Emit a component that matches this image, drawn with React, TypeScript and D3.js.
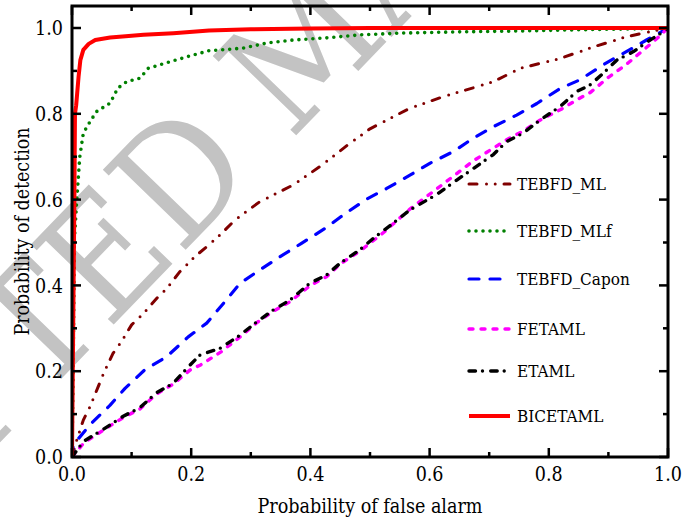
import React from "react";
import * as d3 from "d3";

// ---------- data ----------
const xTicks = [0, 0.2, 0.4, 0.6, 0.8, 1.0];
const yTicks = [0, 0.2, 0.4, 0.6, 0.8, 1.0];

const seriesNames = ["TEBFD_ML", "TEBFD_MLf", "TEBFD_Capon", "FETAML", "ETAML", "BICETAML"];

const mlX = [0, 0.008, 0.019, 0.03, 0.044, 0.053, 0.069, 0.083, 0.1, 0.12, 0.145, 0.159, 0.181, 0.206, 0.226, 0.251, 0.273, 0.315, 0.371, 0.416, 0.466, 0.5, 0.567, 0.623, 0.679, 0.707, 0.752, 0.819, 0.875, 0.931, 0.959, 1];
const mlY = [0, 0.04, 0.086, 0.117, 0.164, 0.195, 0.242, 0.269, 0.308, 0.335, 0.374, 0.393, 0.432, 0.467, 0.49, 0.521, 0.552, 0.595, 0.634, 0.677, 0.731, 0.765, 0.813, 0.84, 0.863, 0.875, 0.906, 0.929, 0.956, 0.98, 0.988, 1];

const mlfX = [0, 0.002, 0.003, 0.004, 0.008, 0.013, 0.019, 0.03, 0.041, 0.064, 0.077, 0.092, 0.114, 0.128, 0.164, 0.203, 0.23, 0.287, 0.327, 0.371, 0.427, 0.483, 0.55, 0.651, 0.75, 0.819, 0.9, 0.987, 1];
const mlfY = [0, 0.2, 0.35, 0.506, 0.599, 0.699, 0.755, 0.781, 0.805, 0.825, 0.86, 0.875, 0.883, 0.906, 0.921, 0.937, 0.947, 0.953, 0.965, 0.972, 0.977, 0.984, 0.988, 0.991, 0.993, 0.995, 0.997, 0.999, 1];

const caponX = [0, 0.002, 0.03, 0.064, 0.089, 0.122, 0.159, 0.195, 0.226, 0.254, 0.282, 0.315, 0.349, 0.385, 0.427, 0.455, 0.494, 0.528, 0.567, 0.601, 0.64, 0.673, 0.707, 0.746, 0.78, 0.819, 0.852, 0.891, 0.925, 0.964, 1];
const caponY = [0, 0.028, 0.075, 0.121, 0.16, 0.203, 0.234, 0.28, 0.312, 0.358, 0.405, 0.436, 0.467, 0.498, 0.535, 0.564, 0.601, 0.626, 0.657, 0.685, 0.712, 0.743, 0.77, 0.797, 0.824, 0.859, 0.879, 0.914, 0.941, 0.972, 1];

const fetamlX = [0, 0.02, 0.053, 0.086, 0.114, 0.142, 0.17, 0.2, 0.215, 0.25, 0.282, 0.31, 0.338, 0.366, 0.4, 0.427, 0.45, 0.483, 0.52, 0.567, 0.612, 0.645, 0.673, 0.707, 0.73, 0.757, 0.785, 0.82, 0.85, 0.87, 0.9, 0.93, 0.96, 0.985, 1];
const fetamlY = [0, 0.033, 0.063, 0.092, 0.112, 0.147, 0.17, 0.205, 0.214, 0.245, 0.28, 0.313, 0.34, 0.362, 0.4, 0.42, 0.45, 0.48, 0.52, 0.578, 0.625, 0.66, 0.69, 0.72, 0.74, 0.76, 0.785, 0.81, 0.835, 0.85, 0.885, 0.915, 0.95, 0.98, 1];

const etamlX = [0, 0.019, 0.053, 0.086, 0.114, 0.142, 0.17, 0.195, 0.215, 0.248, 0.282, 0.31, 0.338, 0.366, 0.399, 0.427, 0.45, 0.483, 0.506, 0.539, 0.567, 0.612, 0.645, 0.673, 0.707, 0.729, 0.757, 0.785, 0.819, 0.847, 0.869, 0.891, 0.914, 0.942, 0.97, 0.992, 1];
const etamlY = [0, 0.036, 0.065, 0.095, 0.115, 0.15, 0.172, 0.21, 0.238, 0.253, 0.284, 0.315, 0.343, 0.366, 0.405, 0.424, 0.452, 0.483, 0.51, 0.545, 0.576, 0.612, 0.645, 0.672, 0.705, 0.735, 0.755, 0.785, 0.817, 0.852, 0.867, 0.894, 0.925, 0.945, 0.972, 0.991, 1];

const biceX = [0, 0.002, 0.004, 0.005, 0.007, 0.011, 0.014, 0.019, 0.028, 0.039, 0.064, 0.09, 0.12, 0.17, 0.23, 0.3, 0.4, 0.5, 0.7, 1];
const biceY = [0, 0.3, 0.6, 0.8, 0.82, 0.886, 0.925, 0.949, 0.963, 0.972, 0.978, 0.981, 0.984, 0.988, 0.994, 0.997, 0.999, 1, 1, 1];

// ---------- layout / styles ----------
const W = 683;
const H = 520;
const M = { left: 72, right: 668, top: 6, bottom: 457 };
const TXT = {
  fontFamily: "'DejaVu Serif Condensed', 'DejaVu Serif', serif",
  fontStretch: "condensed",
};

const styles = [
  { color: "#800000", width: 3, dash: "8,9.5,0,8.7,0,8.8" },
  { color: "#008000", width: 3.6, dash: "0,7" },
  { color: "#0000ff", width: 3.2, dash: "10,11" },
  { color: "#ff00ff", width: 3.4, dash: "4,8" },
  { color: "#000000", width: 3.4, dash: "6.5,7,0,8.2" },
  { color: "#ff0000", width: 4, dash: "" },
];
const legendRows = [184, 231, 279, 329, 371, 416];

export default function App() {
  const x = d3.scaleLinear().domain([0, 1]).range([M.left, M.right]);
  const y = d3.scaleLinear().domain([0, 1]).range([M.bottom, 28]);

  const data = [
    d3.zip(mlX, mlY),
    d3.zip(mlfX, mlfY),
    d3.zip(caponX, caponY),
    d3.zip(fetamlX, fetamlY),
    d3.zip(etamlX, etamlY),
    d3.zip(biceX, biceY),
  ];
  const line = d3
    .line<number[]>()
    .x((d) => x(d[0]))
    .y((d) => y(d[1]));

  const minorX = d3.range(0, 10.5, 1).map((i) => i / 10);
  const minorY = d3.range(0, 10.5, 1).map((i) => i / 10);

  return (
    <svg
      width={W}
      height={H}
      style={{ position: "fixed", left: 0, top: 0, background: "#fff" }}
    >
      <rect x={0} y={0} width={W} height={H} fill="#fff" />
      {/* watermark */}
      <g transform="translate(312,40) rotate(-46)">
        <text
          x={0}
          y={0}
          textAnchor="middle"
          dominantBaseline="central"
          fontSize={158}
          fill="#c3c3c3"
          style={TXT}
        >
          ACCEPTED MANUSCRIPT
        </text>
      </g>

      {/* curves */}
      <defs>
        <clipPath id="plotclip">
          <rect x={M.left} y={M.top} width={M.right - M.left} height={M.bottom - M.top} />
        </clipPath>
      </defs>
      <g clipPath="url(#plotclip)">
        {data.map((d, i) => (
          <path
            key={i}
            d={line(d) || ""}
            fill="none"
            stroke={styles[i].color}
            strokeWidth={styles[i].width}
            strokeDasharray={styles[i].dash || undefined}
            strokeLinecap={styles[i].dash ? "round" : "butt"}
            strokeLinejoin="round"
          />
        ))}
      </g>

      {/* frame */}
      <rect
        x={M.left}
        y={M.top}
        width={M.right - M.left}
        height={M.bottom - M.top}
        fill="none"
        stroke="#000"
        strokeWidth={3}
      />
      {/* ticks */}
      {minorX.map((t, i) => {
        const len = i % 2 === 0 ? 9 : 5;
        return (
          <g key={"xt" + i} stroke="#000" strokeWidth={2.5}>
            <line x1={x(t)} x2={x(t)} y1={M.bottom} y2={M.bottom - len} />
            <line x1={x(t)} x2={x(t)} y1={M.top} y2={M.top + len} />
          </g>
        );
      })}
      {minorY.map((t, i) => {
        const len = i % 2 === 0 ? 9 : 5;
        return (
          <g key={"yt" + i} stroke="#000" strokeWidth={2.5}>
            <line x1={M.left} x2={M.left + len} y1={y(t)} y2={y(t)} />
            <line x1={M.right} x2={M.right - len} y1={y(t)} y2={y(t)} />
          </g>
        );
      })}
      {/* tick labels */}
      {xTicks.map((t) => (
        <text key={"xl" + t} x={x(t)} y={481} fontSize={19.5} textAnchor="middle" fill="#000" style={TXT}>
          {d3.format(".1f")(t)}
        </text>
      ))}
      {yTicks.map((t) => (
        <text key={"yl" + t} x={63} y={y(t) + 7.2} fontSize={19.5} textAnchor="end" fill="#000" style={TXT}>
          {d3.format(".1f")(t)}
        </text>
      ))}
      {/* axis titles */}
      <text
        x={(M.left + M.right) / 2}
        y={513}
        fontSize={20}
        textAnchor="middle"
        fill="#000"
        style={TXT}
        textLength={225}
        lengthAdjust="spacingAndGlyphs"
      >
        Probability of false alarm
      </text>
      <text
        transform={`translate(29,${(M.top + M.bottom) / 2}) rotate(-90)`}
        fontSize={20}
        textAnchor="middle"
        fill="#000"
        style={TXT}
        textLength={208}
        lengthAdjust="spacingAndGlyphs"
      >
        Probability of detection
      </text>

      {/* legend */}
      {seriesNames.map((name, i) => (
        <g key={name}>
          <line
            x1={469}
            x2={510}
            y1={legendRows[i]}
            y2={legendRows[i]}
            stroke={styles[i].color}
            strokeWidth={styles[i].width}
            strokeDasharray={styles[i].dash || undefined}
            strokeLinecap={styles[i].dash ? "round" : "butt"}
          />
          <text x={517} y={legendRows[i] + 6} fontSize={17} fill="#000" style={TXT}>
            {name}
          </text>
        </g>
      ))}
    </svg>
  );
}
